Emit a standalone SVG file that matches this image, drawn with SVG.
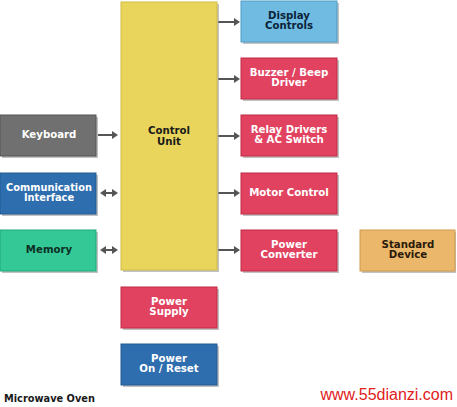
<svg xmlns="http://www.w3.org/2000/svg" width="457" height="407" viewBox="0 0 457 407">
<style>
text{font-family:"DejaVu Sans","Verdana",sans-serif;font-weight:bold;font-size:10.2px;text-anchor:middle}
.w{fill:#ffffff}
.d{fill:#1a1a1a}
.sh{fill:#9a9a9a;opacity:0.6}
.ln{stroke:#555555;stroke-width:2;fill:none}
.hd{fill:#555555}
</style>
<rect width="457" height="407" fill="#ffffff"/>
<g id="connectors">
<line class="ln" x1="218" y1="22" x2="236" y2="22"/><path class="hd" d="M234,18L240,22L234,26Z"/>
<line class="ln" x1="218" y1="79" x2="236" y2="79"/><path class="hd" d="M234,75L240,79L234,83Z"/>
<line class="ln" x1="218" y1="136" x2="236" y2="136"/><path class="hd" d="M234,132L240,136L234,140Z"/>
<line class="ln" x1="218" y1="193" x2="236" y2="193"/><path class="hd" d="M234,189L240,193L234,197Z"/>
<line class="ln" x1="218" y1="250" x2="236" y2="250"/><path class="hd" d="M234,246L240,250L234,254Z"/>
<line class="ln" x1="98" y1="135" x2="114" y2="135"/><path class="hd" d="M112,131L118,135L112,139Z"/>
<line class="ln" x1="103" y1="193" x2="115" y2="193"/><path class="hd" d="M106,189L100,193L106,197Z"/><path class="hd" d="M112,189L118,193L112,197Z"/>
<line class="ln" x1="103" y1="250" x2="115" y2="250"/><path class="hd" d="M106,246L100,250L106,254Z"/><path class="hd" d="M112,246L118,250L112,254Z"/>
</g>
<g id="control-unit">
<rect class="sh" x="123" y="4" width="96" height="268"/>
<rect x="121" y="2" width="96" height="268" fill="#e9d55c" stroke="#d2bd45" stroke-width="1"/>
<text class="d" x="169" y="134">Control</text>
<text class="d" x="169" y="145">Unit</text>
</g>
<g id="display-controls">
<rect class="sh" x="243" y="3" width="96" height="41"/>
<rect x="241" y="1" width="96" height="41" fill="#6fbbe2" stroke="#4f9cc4"/>
<text x="289" y="19" fill="#0b2438">Display</text>
<text x="289" y="29" fill="#0b2438">Controls</text>
</g>
<g id="buzzer">
<rect class="sh" x="243" y="60" width="96" height="41"/>
<rect x="241" y="58" width="96" height="41" fill="#e1425f" stroke="#c02a47"/>
<text class="w" x="289" y="76">Buzzer / Beep</text>
<text class="w" x="289" y="86">Driver</text>
</g>
<g id="relay">
<rect class="sh" x="243" y="117" width="96" height="41"/>
<rect x="241" y="115" width="96" height="41" fill="#e1425f" stroke="#c02a47"/>
<text class="w" x="289" y="133">Relay Drivers</text>
<text class="w" x="289" y="143">&amp; AC Switch</text>
</g>
<g id="motor">
<rect class="sh" x="243" y="175" width="96" height="41"/>
<rect x="241" y="173" width="96" height="41" fill="#e1425f" stroke="#c02a47"/>
<text class="w" x="289" y="196">Motor Control</text>
</g>
<g id="power-converter">
<rect class="sh" x="243" y="232" width="96" height="41"/>
<rect x="241" y="230" width="96" height="41" fill="#e1425f" stroke="#c02a47"/>
<text class="w" x="289" y="248">Power</text>
<text class="w" x="289" y="258">Converter</text>
</g>
<g id="standard-device">
<rect class="sh" x="362" y="232" width="94" height="41"/>
<rect x="360" y="230" width="95" height="41" fill="#ebb76b" stroke="#cf9a4e"/>
<text x="408" y="248" fill="#2a1a08">Standard</text>
<text x="408" y="258" fill="#2a1a08">Device</text>
</g>
<g id="keyboard">
<rect class="sh" x="2" y="117" width="96" height="41"/>
<rect x="0" y="115" width="96" height="41" fill="#707070" stroke="#555555"/>
<text class="w" x="49" y="138">Keyboard</text>
</g>
<g id="communication">
<rect class="sh" x="2" y="175" width="96" height="41"/>
<rect x="0" y="173" width="96" height="41" fill="#2f6eae" stroke="#225a92"/>
<text class="w" x="49" y="191" style="font-size:9.8px">Communication</text>
<text class="w" x="49" y="201" style="font-size:9.8px">Interface</text>
</g>
<g id="memory">
<rect class="sh" x="2" y="232" width="96" height="41"/>
<rect x="0" y="230" width="96" height="41" fill="#34c897" stroke="#22a87a"/>
<text x="49" y="253" fill="#0c3024">Memory</text>
</g>
<g id="power-supply">
<rect class="sh" x="123" y="289" width="96" height="41"/>
<rect x="121" y="287" width="96" height="41" fill="#e1425f" stroke="#c02a47"/>
<text class="w" x="169" y="305">Power</text>
<text class="w" x="169" y="315">Supply</text>
</g>
<g id="power-on-reset">
<rect class="sh" x="123" y="346" width="96" height="41"/>
<rect x="121" y="344" width="96" height="41" fill="#2f6eae" stroke="#225a92"/>
<text class="w" x="169" y="362">Power</text>
<text class="w" x="169" y="372">On / Reset</text>
</g>
<text x="4" y="402" class="d" style="text-anchor:start;font-size:9.8px">Microwave Oven</text>
<text x="453" y="400" style="text-anchor:end;font-family:'Liberation Sans',Arial,sans-serif;font-weight:normal;font-size:16px;fill:#e02020">www.55dianzi.com</text>
</svg>
